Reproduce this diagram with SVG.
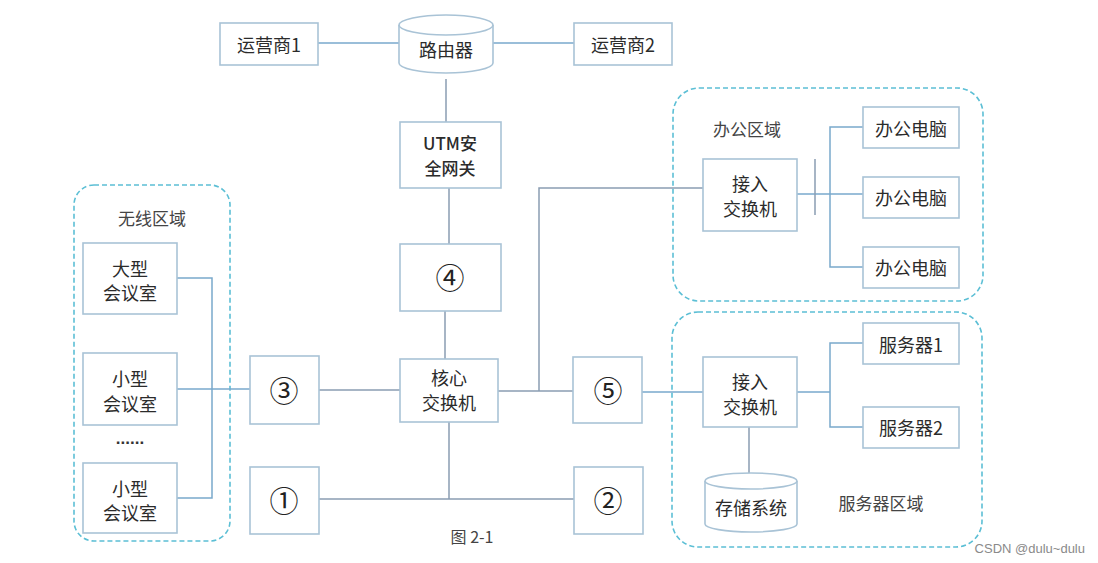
<svg xmlns="http://www.w3.org/2000/svg" width="1098" height="563" viewBox="0 0 1098 563">
<style>
.box{fill:#fff;stroke:#a9c3d6;stroke-width:1.6}
.zone{fill:none;stroke:#5cbfd5;stroke-width:1.6;stroke-dasharray:5 3}
.ln{fill:none;stroke:#8a9db2;stroke-width:1.5}
.lnb{fill:none;stroke:#79a9cc;stroke-width:1.5}
.t{font-family:"Noto Sans CJK SC","Noto Sans",sans-serif;font-size:18px;fill:#2b2b2b;text-anchor:middle;dominant-baseline:central}
.c{font-family:"Noto Sans CJK SC","DejaVu Sans",sans-serif;font-size:29px;fill:#222;text-anchor:middle;dominant-baseline:central}
.z{font-family:"Noto Sans CJK SC","Noto Sans",sans-serif;font-size:17px;fill:#444;text-anchor:middle;dominant-baseline:central}
</style>
<rect width="1098" height="563" fill="#fff"/>
<g id="zones">
<rect class="zone" x="74" y="185" width="156" height="356" rx="20"/>
<rect class="zone" x="673" y="88" width="310" height="213" rx="26"/>
<rect class="zone" x="672" y="312" width="310" height="235" rx="26"/>
</g>
<g id="connectors">
<line class="lnb" x1="318" y1="43" x2="399" y2="43"/>
<line class="lnb" x1="493" y1="43" x2="574" y2="43"/>
<line class="ln" x1="446" y1="79" x2="446" y2="122"/>
<line class="ln" x1="449" y1="188" x2="449" y2="244"/>
<line class="ln" x1="445" y1="311" x2="445" y2="359"/>
<line class="ln" x1="319" y1="390" x2="400" y2="390"/>
<line class="ln" x1="498" y1="391" x2="573" y2="391"/>
<polyline class="ln" points="539,391 539,188 703,188"/>
<line class="ln" x1="449" y1="422" x2="449" y2="499"/>
<line class="ln" x1="319" y1="499" x2="574" y2="499"/>
<polyline class="lnb" points="177,278 212,278 212,498 177,498"/>
<line class="lnb" x1="177" y1="389" x2="250" y2="389"/>
<line class="lnb" x1="797" y1="194" x2="863" y2="194"/>
<line class="ln" x1="815" y1="159" x2="815" y2="215"/>
<polyline class="lnb" points="863,127 830,127 830,267 863,267"/>
<line class="lnb" x1="642" y1="392" x2="703" y2="392"/>
<line class="lnb" x1="797" y1="392" x2="830" y2="392"/>
<polyline class="lnb" points="863,343 830,343 830,427 863,427"/>
<line class="ln" x1="749" y1="427" x2="749" y2="474"/>
</g>
<g id="isp1"><rect class="box" x="220" y="23" width="98" height="42"/><text class="t" x="269" y="44">运营商1</text></g>
<g id="router">
<path class="box" d="M399,25 L399,63 A47,10 0 0 0 493,63 L493,25"/>
<ellipse class="box" cx="446" cy="25" rx="47" ry="10"/>
<text class="t" x="446" y="49">路由器</text>
</g>
<g id="isp2"><rect class="box" x="574" y="23" width="98" height="42"/><text class="t" x="623" y="44">运营商2</text></g>
<g id="utm"><rect class="box" x="400" y="122" width="101" height="66"/><text class="t" x="450" y="142" style="font-weight:500;font-size:17px">UTM安</text><text class="t" x="450" y="167" style="font-weight:500;font-size:17px">全网关</text></g>
<g id="n4"><rect class="box" x="400" y="244" width="101" height="67"/><text class="c" x="450" y="276">④</text></g>
<g id="core"><rect class="box" x="400" y="359" width="98" height="63"/><text class="t" x="449" y="377">核心</text><text class="t" x="449" y="402">交换机</text></g>
<g id="n5"><rect class="box" x="573" y="357" width="69" height="66"/><text class="c" x="608" y="389">⑤</text></g>
<g id="n3"><rect class="box" x="250" y="356" width="69" height="68"/><text class="c" x="284" y="389">③</text></g>
<g id="n1"><rect class="box" x="250" y="467" width="69" height="67"/><text class="c" x="284" y="499">①</text></g>
<g id="n2"><rect class="box" x="574" y="467" width="69" height="67"/><text class="c" x="608" y="499">②</text></g>
<g id="wireless-label"><text class="z" x="152" y="217">无线区域</text></g>
<g id="bigroom"><rect class="box" x="83" y="243" width="94" height="71"/><text class="t" x="130" y="268">大型</text><text class="t" x="130" y="292">会议室</text></g>
<g id="smallroom1"><rect class="box" x="83" y="353" width="94" height="72"/><text class="t" x="130" y="378">小型</text><text class="t" x="130" y="403">会议室</text></g>
<g id="dots"><text x="130" y="444" style="font-family:'Liberation Sans',sans-serif;font-size:17px;font-weight:bold;fill:#333;text-anchor:middle">......</text></g>
<g id="smallroom2"><rect class="box" x="83" y="463" width="94" height="70"/><text class="t" x="130" y="488">小型</text><text class="t" x="130" y="512">会议室</text></g>
<g id="office-label"><text class="z" x="747" y="128">办公区域</text></g>
<g id="office-switch"><rect class="box" x="703" y="159" width="94" height="72"/><text class="t" x="750" y="183">接入</text><text class="t" x="750" y="208">交换机</text></g>
<g id="pc1"><rect class="box" x="863" y="107" width="96" height="41"/><text class="t" x="911" y="128">办公电脑</text></g>
<g id="pc2"><rect class="box" x="863" y="177" width="96" height="41"/><text class="t" x="911" y="197">办公电脑</text></g>
<g id="pc3"><rect class="box" x="863" y="247" width="96" height="41"/><text class="t" x="911" y="267">办公电脑</text></g>
<g id="server-switch"><rect class="box" x="703" y="357" width="94" height="70"/><text class="t" x="750" y="381">接入</text><text class="t" x="750" y="406">交换机</text></g>
<g id="srv1"><rect class="box" x="863" y="323" width="96" height="41"/><text class="t" x="911" y="344">服务器1</text></g>
<g id="srv2"><rect class="box" x="863" y="407" width="96" height="41"/><text class="t" x="911" y="427">服务器2</text></g>
<g id="storage">
<path class="box" d="M705,481 L705,524 A46,8 0 0 0 797,524 L797,481"/>
<ellipse class="box" cx="751" cy="481" rx="46" ry="8"/>
<text class="t" x="751" y="507">存储系统</text>
</g>
<g id="server-label"><text class="z" x="881" y="502">服务器区域</text></g>
<g id="caption"><text class="t" x="472" y="536" style="font-size:16px;fill:#444">图 2-1</text></g>
<g id="watermark"><text x="1085" y="548" style="font-family:'Liberation Sans',sans-serif;font-size:13px;fill:#8a8a8a;text-anchor:end;dominant-baseline:central">CSDN @dulu~dulu</text></g>
</svg>
